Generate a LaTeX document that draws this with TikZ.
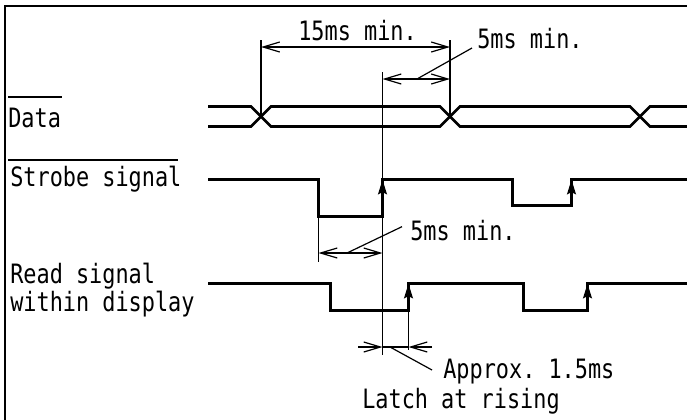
\documentclass[tikz,border=0pt]{standalone}
\usepackage{fontspec}
\setmonofont[FakeStretch=0.82]{DejaVu Sans Mono}
\usetikzlibrary{arrows.meta,positioning}

\begin{document}
\begin{tikzpicture}[
      x=0.75pt,y=-0.75pt,
      label text/.style={
         anchor=base west,
         inner sep=0pt,
         font=\ttfamily\fontsize{20}{19.5}\selectfont,
         align=left
      },
      frame line/.style={line width=1.5pt},
      signal/.style={line width=1.9pt,line join=miter},
      thin line/.style={line width=0.9pt},
      bar line/.style={line width=1.4pt},
      barb/.tip={Straight Barb[length=12.5pt,width=7.5pt]},
      dim/.style={thin line,barb-barb},
      edge tip/.style={line width=1.9pt,-{Stealth[length=11pt,width=6.5pt,inset=1.5pt]}}
    ]
    \useasboundingbox (0,0) rectangle (687,419);
    \draw[frame line] (5,430) -- (5,6) -- (700,6);

    % labels
    \node (data) [label text] at (8,127) {Data};
    \draw[bar line] (8,97) -- (62,97);
    \node (strobe) [label text] at (10,186) {Strobe signal};
    \draw[bar line] (8,160) -- (178,160);
    \node (read) [label text] at (10,311) {Read signal\\within display};

    % data
    \foreach \ya/\yb in {106.5/126.5,126.5/106.5}
       \draw[signal] (208,\ya) -- (251,\ya) -- (271,\yb) -- (440,\yb)
          -- (460,\ya) -- (630,\ya) -- (650,\yb) -- (695,\yb);

    % strobe
    \draw[signal] (208,179.5) -- (318.5,179.5) -- (318.5,216.5) -- (382.5,216.5)
       -- (382.5,179.5) -- (512.5,179.5) -- (512.5,205.5) -- (571.5,205.5) -- (571.5,179.5) -- (695,179.5);
    \draw[edge tip] (382.5,205) -- (382.5,179.5);
    \draw[edge tip] (571.5,200) -- (571.5,179.5);

    % read signal
    \draw[signal] (208,283.5) -- (330.5,283.5) -- (330.5,310.5) -- (408.5,310.5)
       -- (408.5,283.5) -- (523.5,283.5) -- (523.5,310.5) -- (587.5,310.5) -- (587.5,283.5) -- (695,283.5);
    \draw[edge tip] (408.5,305) -- (408.5,283.5);
    \draw[edge tip] (587.5,305) -- (587.5,283.5);

    % 15ms
    \coordinate (x1) at (261,116.5);
    \coordinate (x2) at (450,116.5);
    \draw[thin line] (x1) -- ++(0,-76.5);
    \draw[thin line] (x2) -- ++(0,-76.5);
    \draw[dim] (261,47) -- (450,47);
    \node (t15) [label text] at (298,40) {15ms min.};

    % 5ms, data to strobe
    \coordinate (latch top) at (382.5,72);
    \coordinate (latch bot) at (382.5,355);
    \draw[thin line] (latch top) -- (latch bot);
    \draw[dim] (382.5,79) -- (450,79);
    \node (t5a) [label text] at (477,48) {5ms min.};
    \draw[thin line] (417,79) -- ([xshift=-3.75pt]t5a.base west);

    % 5ms, strobe low
    \draw[thin line] (318.5,216) -- (318.5,262);
    \draw[dim] (318.5,253) -- (382.5,253);
    \node (t5b) [label text] at (410,240) {5ms min.};
    \draw[thin line] (347,253) -- ([xshift=-6pt,yshift=10pt]t5b.base west);

    % 1.5ms
    \draw[thin line] (408.5,310) -- (408.5,350);
    \draw[thin line,-barb] (358,347) -- (382.5,347);
    \draw[thin line,-barb] (432,347) -- (408.5,347);
    \draw[thin line] (382.5,347) -- (408.5,347);
    \node (t1) [label text] at (443,378) {Approx. 1.5ms};
    \draw[thin line] (390,347) -- (432,370);
    \node (latch) [label text] at (362,408) {Latch at rising};
\end{tikzpicture}
\end{document}
